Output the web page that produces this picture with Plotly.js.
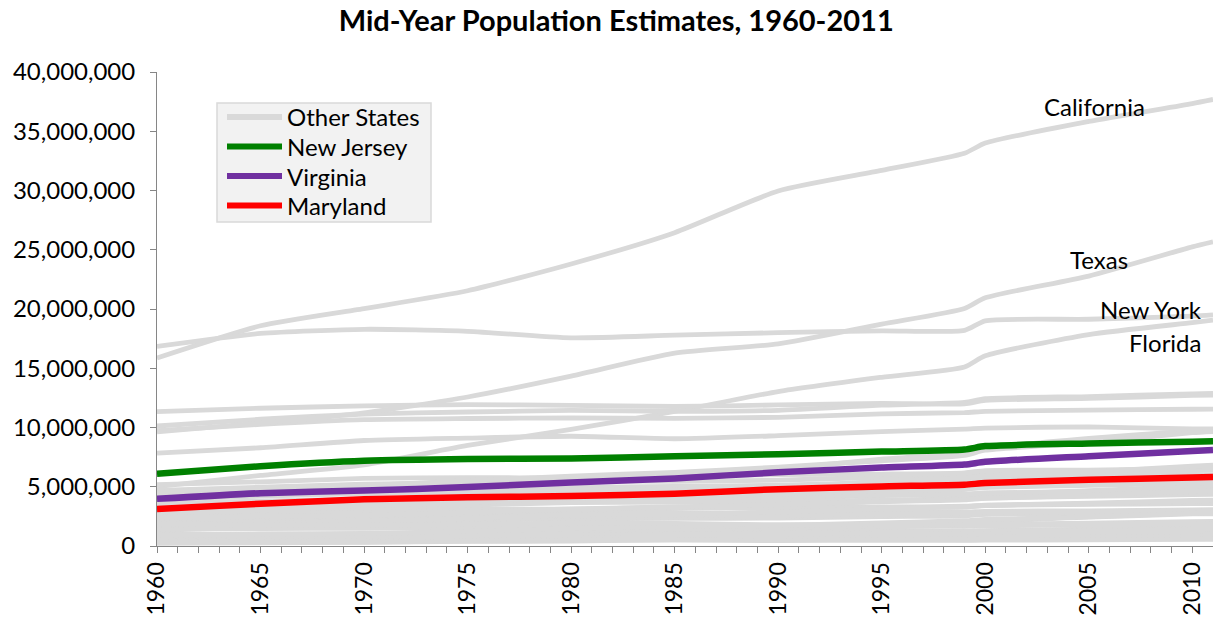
<!DOCTYPE html>
<html><head><meta charset="utf-8">
<script src="https://cdn.plot.ly/plotly-3.0.1.min.js"></script>
<style>html,body{margin:0;padding:0;background:#fff}#chart{width:1213px;height:621px}</style>
</head><body><div id="chart"></div>
<script>
// Years sampled (x values)
const years = [1960,1965,1970,1975,1980,1985,1990,1995,1999,2000,2005,2010,2011];

// Mid-year populations, in thousands
const alabama       = [3274,3407,3444,3679,3900,3973,4050,4263,4370,4452,4570,4785,4803];
const alaska        = [230,272,302,384,405,532,553,601,620,628,663,714,723];
const arizona       = [1321,1584,1792,2224,2738,3184,3684,4432,4778,5160,5839,6408,6482];
const arkansas      = [1789,1901,1931,2145,2293,2327,2357,2480,2551,2679,2781,2922,2938];
const california    = [15870,18585,20039,21538,23800,26441,29960,31697,33145,34000,35828,37338,37684];
const colorado      = [1769,1969,2222,2540,2908,3231,3307,3811,4056,4328,4662,5048,5118];
const connecticut   = [2544,2833,3038,3095,3115,3202,3289,3275,3282,3412,3506,3577,3588];
const delaware      = [449,506,551,580,595,620,669,730,754,786,845,900,907];
const dc            = [761,802,753,702,636,628,605,580,519,572,567,605,619];
const florida       = [5004,5956,6845,8482,9840,11351,13033,14238,15111,16048,17842,18849,19058];
const georgia       = [3956,4333,4605,4931,5487,5932,6512,7328,7788,8227,9073,9712,9815];
const hawaii        = [642,701,775,859,968,1040,1113,1186,1185,1211,1292,1363,1375];
const idaho         = [671,693,719,819,949,974,1012,1177,1252,1299,1428,1570,1584];
const illinois      = [10127,10695,11129,11306,11437,11355,11453,11885,12128,12437,12610,12840,12869];
const indiana       = [4688,4960,5209,5347,5491,5456,5559,5803,5943,6092,6257,6490,6516];
const iowa          = [2765,2773,2830,2886,2912,2822,2778,2850,2869,2929,2965,3050,3062];
const kansas        = [2186,2233,2249,2300,2370,2434,2481,2584,2654,2693,2745,2859,2871];
const kentucky      = [3040,3188,3226,3450,3664,3695,3694,3880,3961,4049,4183,4347,4369];
const louisiana     = [3277,3513,3649,3923,4219,4407,4221,4330,4372,4471,4576,4545,4575];
const maine         = [973,977,996,1068,1127,1163,1231,1238,1253,1277,1318,1328,1328];
const maryland      = [3132,3574,3937,4108,4223,4403,4799,5031,5172,5312,5582,5786,5828];
const massachusetts = [5176,5414,5702,5773,5744,5861,6022,6071,6175,6362,6403,6556,6587];
const michigan      = [7834,8291,8902,9109,9262,9052,9311,9659,9864,9953,10051,9877,9876];
const minnesota     = [3422,3563,3822,3942,4083,4193,4390,4660,4776,4934,5119,5310,5345];
const mississippi   = [2183,2223,2226,2409,2524,2614,2577,2722,2768,2849,2904,2970,2978];
const missouri      = [4333,4505,4693,4801,4923,5029,5128,5376,5468,5607,5790,5996,6010];
const montana       = [679,707,698,750,789,823,800,868,882,903,935,990,998];
const nebraska      = [1416,1473,1491,1555,1572,1600,1580,1656,1666,1714,1762,1830,1842];
const nevada        = [292,422,493,612,810,952,1220,1582,1809,2018,2433,2704,2723];
const newHampshire  = [610,681,742,825,924,1011,1112,1158,1201,1240,1298,1317,1318];
const newJersey     = [6099,6733,7193,7347,7376,7569,7748,7965,8143,8431,8651,8801,8834];
const newMexico     = [954,1015,1023,1147,1311,1438,1521,1720,1740,1822,1932,2065,2078];
const newYork       = [16838,17936,18287,18120,17567,17792,18002,18156,18197,19001,19133,19398,19502];
const northCarolina = [4573,4864,5099,5518,5898,6217,6664,7196,7651,8081,8705,9560,9657];
const northDakota   = [633,647,619,640,653,674,637,641,634,642,646,674,684];
const ohio          = [9734,10264,10667,10760,10800,10771,10862,11155,11257,11364,11465,11539,11545];
const oklahoma      = [2330,2458,2567,2765,3040,3291,3148,3278,3358,3454,3548,3760,3792];
const oregon        = [1772,1899,2101,2330,2644,2673,2860,3141,3316,3430,3613,3838,3872];
const pennsylvania  = [11345,11626,11817,11925,11868,11771,11903,12044,11994,12285,12450,12712,12743];
const rhodeIsland   = [861,891,951,936,947,969,1005,988,991,1050,1064,1053,1051];
const southCarolina = [2392,2494,2596,2848,3135,3300,3501,3735,3886,4024,4271,4636,4679];
const southDakota   = [683,678,666,683,691,700,697,730,733,756,774,816,824];
const tennessee     = [3581,3791,3937,4215,4600,4715,4894,5256,5484,5704,5956,6357,6403];
const texas         = [9624,10378,11237,12574,14338,16273,17057,18724,20044,20944,22778,25246,25675];
const utah          = [900,990,1066,1234,1474,1643,1731,1958,2130,2244,2457,2776,2817];
const vermont       = [392,406,447,481,513,536,564,585,594,610,620,626,627];
const virginia      = [3981,4457,4676,4972,5368,5705,6219,6618,6873,7105,7577,8024,8105];
const washington    = [2871,3008,3426,3621,4156,4409,4903,5470,5756,5911,6257,6744,6822];
const westVirginia  = [1853,1790,1743,1828,1952,1905,1792,1824,1807,1807,1820,1854,1855];
const wisconsin     = [3965,4204,4432,4580,4706,4760,4904,5133,5250,5374,5527,5690,5712];
const wyoming       = [332,337,334,403,474,500,453,485,480,494,514,564,568];

const otherStates = [alabama,alaska,arizona,arkansas,california,colorado,connecticut,delaware,dc,
  florida,georgia,hawaii,idaho,illinois,indiana,iowa,kansas,kentucky,louisiana,maine,massachusetts,
  michigan,minnesota,mississippi,missouri,montana,nebraska,nevada,newHampshire,newMexico,newYork,
  northCarolina,northDakota,ohio,oklahoma,oregon,pennsylvania,rhodeIsland,southCarolina,southDakota,
  tennessee,texas,utah,vermont,washington,westVirginia,wisconsin,wyoming];

const highlightNames = ['New Jersey','Virginia','Maryland'];
const highlightData = [newJersey, virginia, maryland];
const highlightColors = ['#008000','#7030A0','#FF0000'];

const legendNames = ['Other States','New Jersey','Virginia','Maryland'];
const legendColors = ['#D9D9D9','#008000','#7030A0','#FF0000'];

const labelNames = ['California','Texas','New York','Florida'];

const toPeople = arr => arr.map(v => v * 1000);
const FONT = 'Lato, "Open Sans", sans-serif';

const traces = [];
otherStates.forEach((arr, i) => {
  traces.push({
    x: years, y: toPeople(arr), type: 'scatter', mode: 'lines',
    name: 'Other States', legendgroup: 'other', showlegend: false,
    line: {color: '#D9D9D9', width: 4.8, shape: 'spline', smoothing: 0.6}, hoverinfo: 'skip'
  });
});
highlightData.forEach((arr, i) => {
  traces.push({
    x: years, y: toPeople(arr), type: 'scatter', mode: 'lines',
    name: highlightNames[i], showlegend: false,
    line: {color: highlightColors[i], width: 6.5, shape: 'spline', smoothing: 0.6}
  });
});

// Text labels next to the large states
const labelPos = [[2005.3, 37100000],[2005.5, 24200000],[2008.0, 20000000],[2008.7, 17200000]];
const annotations = labelNames.map((t, i) => ({
  x: labelPos[i][0], y: labelPos[i][1], text: t, showarrow: false,
  xanchor: 'center', yanchor: 'middle', font: {family: FONT, size: 24, color: '#000'}
}));

// Legend box (drawn as layout decoration, paper coordinates)
const W = 1056, H = 474, L = 157, T = 72;
const px = v => (v - L) / W;
const py = v => (T + H - v) / H;
const shapes = [{
  type: 'rect', xref: 'paper', yref: 'paper',
  x0: px(217), x1: px(431), y0: py(222), y1: py(103),
  fillcolor: '#F2F2F2', line: {color: '#D9D9D9', width: 1.5}, layer: 'above'
}];
const legendRowY = [117, 146.5, 176, 205.5];
legendNames.forEach((n, i) => {
  shapes.push({
    type: 'line', xref: 'paper', yref: 'paper',
    x0: px(227), x1: px(282), y0: py(legendRowY[i]), y1: py(legendRowY[i]),
    line: {color: legendColors[i], width: 6}, layer: 'above'
  });
  annotations.push({
    xref: 'paper', yref: 'paper', x: px(285), y: py(legendRowY[i]),
    xanchor: 'left', yanchor: 'middle', showarrow: false, text: n,
    font: {family: FONT, size: 24, color: '#000'}
  });
});

const layout = {
  width: 1213, height: 621,
  margin: {l: 157, r: 0, t: 72, b: 75},
  paper_bgcolor: '#fff', plot_bgcolor: '#fff',
  title: {text: '<b>Mid-Year Population Estimates, 1960-2011</b>', x: 0.508, xref: 'container', xanchor: 'center',
          y: 0.967, yref: 'container', yanchor: 'middle',
          font: {family: FONT, size: 29, color: '#000'}},
  font: {family: FONT, color: '#000'},
  showlegend: false,
  xaxis: {
    range: [1960, 2011], tick0: 1960, dtick: 5, tickangle: -90,
    ticks: 'outside', ticklen: 6, tickcolor: '#868686', tickwidth: 1,
    minor: {dtick: 1, ticks: 'outside', ticklen: 6, tickcolor: '#868686', tickwidth: 1, showgrid: false},
    showline: true, linecolor: '#868686', linewidth: 1, showgrid: false, zeroline: false,
    tickfont: {family: FONT, size: 23, color: '#000'}
  },
  yaxis: {
    range: [0, 40000000], dtick: 5000000, tickformat: ',d',
    ticks: 'outside', ticklen: 6, tickcolor: '#868686', tickwidth: 1,
    showline: true, linecolor: '#868686', linewidth: 1, showgrid: false, zeroline: false,
    ticklabelstandoff: 10,
    tickfont: {family: FONT, size: 24, color: '#000'}
  },
  annotations: annotations,
  shapes: shapes
};

Plotly.newPlot('chart', traces, layout, {displayModeBar: false, staticPlot: true});
</script>
</body></html>
